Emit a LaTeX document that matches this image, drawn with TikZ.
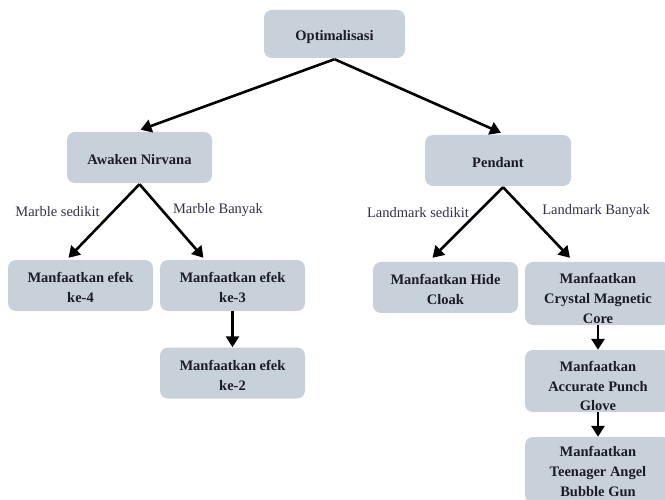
\documentclass[tikz,border=0pt]{standalone}
\usepackage{fontspec}
\setmainfont{Liberation Serif}
\usetikzlibrary{arrows.meta}
\definecolor{boxfill}{HTML}{C8D0DA}
\definecolor{boxtext}{HTML}{1C1C28}
\definecolor{labeltext}{HTML}{34304A}
% box caption: centred lines, set a little below the middle of the box
\newcommand{\boxcaption}[2][3pt]{\raisebox{-#1}[\height][\depth]{%
  \begin{tabular}{@{}c@{}}#2\end{tabular}}}
\tikzset{
  box/.style={draw=none, fill=boxfill, rounded corners=8pt,
    inner sep=0pt, text=boxtext,
    font=\fontsize{14.5}{20}\selectfont\bfseries},
  edgelabel/.style={text=labeltext, inner sep=0pt,
    font=\fontsize{14.5}{17}\selectfont},
  link/.style={line width=2.6pt, -{Triangle[length=11pt,width=13pt]}},
}
\begin{document}
\begin{tikzpicture}[x=1pt,y=-1pt]
\useasboundingbox (0,0) rectangle (665,500);
\clip (0,0) rectangle (665,500);

% boxes
\node[box, minimum width=141pt, minimum height=48pt] (opt) at (334.5,34) {\boxcaption{Optimalisasi}};
\node[box, minimum width=145pt, minimum height=51pt] (awk) at (139.5,157.5) {\boxcaption{Awaken Nirvana}};
\node[box, minimum width=146pt, minimum height=51pt] (pen) at (498,160.5) {\boxcaption{Pendant}};

\node[box, minimum width=145pt, minimum height=51pt] (k4) at (80.5,285.5) {\boxcaption{Manfaatkan efek\\ke-4}};
\node[box, minimum width=145pt, minimum height=51pt] (k3) at (232.5,285.5) {\boxcaption{Manfaatkan efek\\ke-3}};
\node[box, minimum width=145pt, minimum height=51pt] (k2) at (232.5,373) {\boxcaption{Manfaatkan efek\\ke-2}};

\node[box, minimum width=145pt, minimum height=51pt] (hide) at (445.5,287.5) {\boxcaption{Manfaatkan Hide\\Cloak}};
\node[box, minimum width=146pt, minimum height=63pt] (cmc) at (598,293.5) {\boxcaption[6pt]{Manfaatkan\\Crystal Magnetic\\Core}};
\node[box, minimum width=146pt, minimum height=62pt] (apg) at (598,381) {\boxcaption[6pt]{Manfaatkan\\Accurate Punch\\Glove}};
\node[box, minimum width=146pt, minimum height=66pt] (tab) at (598,470) {\boxcaption[2.5pt]{Manfaatkan\\Teenager Angel\\Bubble Gun}};

% connectors
\coordinate (optfoot) at ([yshift=-1pt]opt.south);
\draw[link] (optfoot) -- ([xshift=1pt,yshift=2pt]awk.north);
\draw[link] (optfoot) -- ([xshift=3pt,yshift=2pt]pen.north);

\coordinate (awkfoot) at ([yshift=-1pt]awk.south);
\draw[link] (awkfoot) -- ([xshift=-12pt,yshift=2pt]k4.north);
\draw[link] (awkfoot) -- ([xshift=-29pt,yshift=2pt]k3.north);

\coordinate (penfoot) at ([xshift=5pt,yshift=-1pt]pen.south);
\draw[link] (penfoot) -- ([xshift=-13pt,yshift=4pt]hide.north);
\draw[link] (penfoot) -- ([xshift=-28pt,yshift=4pt]cmc.north);

\draw[link] (k3.south) -- (k2.north);
\draw[link] (cmc.south) -- (apg.north);
\draw[link] (apg.south) -- (tab.north);

% branch labels
\node[edgelabel] (ms) at (57.5,212) {Marble sedikit};
\node[edgelabel] (mb) at (218,210) {Marble Banyak};
\node[edgelabel] (ls) at (418,213) {Landmark sedikit};
\node[edgelabel] (lb) at (596,211) {Landmark Banyak};
\end{tikzpicture}
\end{document}
